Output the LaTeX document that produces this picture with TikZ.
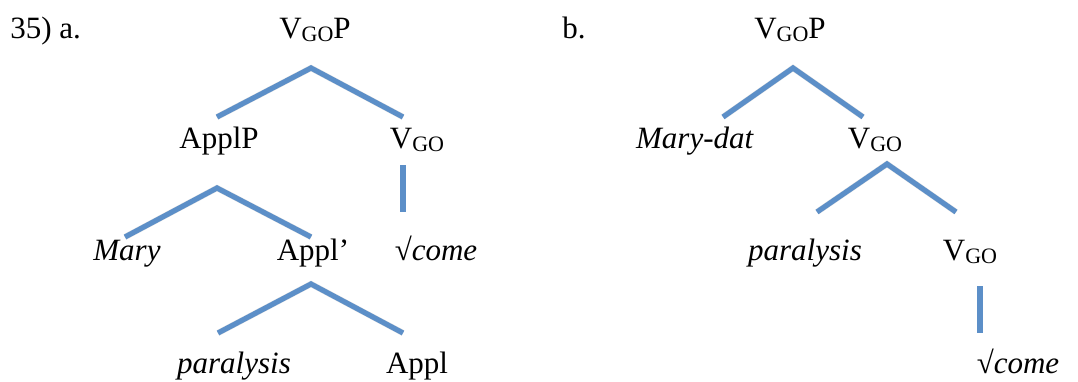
\documentclass[tikz,border=0pt]{standalone}
\usepackage{fontspec}
\setmainfont{LiberationSerif}[
  Extension=.ttf,
  UprightFont=*-Regular,
  ItalicFont=*-Italic,
  BoldFont=*-Bold,
]
\usetikzlibrary{positioning,calc}

\definecolor{branch}{RGB}{92,143,200}
\newcommand{\GOsub}{\raisebox{-0.12em}{\fontsize{11pt}{11pt}\selectfont GO}}
\newcommand{\sqrtroot}[1]{\textup{√}\textit{#1}}

\begin{document}
\begin{tikzpicture}[x=0.5pt,y=-0.5pt]
  \useasboundingbox (0,0) rectangle (1078,381);
  \tikzset{
    branch/.style={draw=branch,line width=2.6pt,line join=miter},
    shade/.style={draw=black,opacity=0.12,line width=3pt,shift={(1.5,2.5)}},
  }
  \begin{scope}[
    every node/.style={
      anchor=base,
      inner sep=0pt,
      font=\fontsize{15.5pt}{18pt}\selectfont,
    },
    ]
    % tree a
    \node[anchor=base west] (label-a) at (10,38)  {35) a.};
    \node (vgop-a)   at (315,38)  {V\GOsub P};
    \node (applp)    at (219,148) {ApplP};
    \node (vgo-a)    at (417,148) {V\GOsub};
    \node (mary)     at (127,260) {\textit{Mary}};
    \node (applbar)  at (313,260) {Appl’};
    \node (root-a)   at (436,260) {\sqrtroot{come}};
    \node (paral-a)  at (234,373) {\textit{paralysis}};
    \node (appl)     at (417,373) {Appl};
    % tree b
    \node[anchor=base west] (label-b) at (562,38) {b.};
    \node (vgop-b)   at (790,38)  {V\GOsub P};
    \node (marydat)  at (695,148) {\textit{Mary-dat}};
    \node (vgo-b)    at (875,148) {V\GOsub};
    \node (paral-b)  at (805,260) {\textit{paralysis}};
    \node (vgo-c)    at (970,260) {V\GOsub};
    \node (root-b)   at (1018,373) {\sqrtroot{come}};
  \end{scope}

  % branch points under each mother node, ends above each daughter
  \coordinate (vgop-a-dn)   at (311,68);
  \coordinate (applp-up)    at (217,117);
  \coordinate (vgo-a-up)    at (403,117);
  \coordinate (vgo-a-dn)    at (403,165);
  \coordinate (root-a-up)   at (403,212);
  \coordinate (applp-dn)    at (217,188);
  \coordinate (mary-up)     at (125,237);
  \coordinate (applbar-up)  at (311,237);
  \coordinate (applbar-dn)  at (311,284);
  \coordinate (paral-a-up)  at (218,333);
  \coordinate (appl-up)     at (403,333);
  \coordinate (vgop-b-dn)   at (793,68);
  \coordinate (marydat-up)  at (723,117);
  \coordinate (vgo-b-up)    at (863,117);
  \coordinate (vgo-b-dn)    at (887,164);
  \coordinate (paral-b-up)  at (817,212);
  \coordinate (vgo-c-up)    at (956,212);
  \coordinate (vgo-c-dn)    at (980,286);
  \coordinate (root-b-up)   at (980,333);

  \foreach \sty in {shade,branch}{
    \path[\sty] (applp-up) -- (vgop-a-dn) -- (vgo-a-up);
    \path[\sty] (vgo-a-dn) -- (root-a-up);
    \path[\sty] (mary-up) -- (applp-dn) -- (applbar-up);
    \path[\sty] (paral-a-up) -- (applbar-dn) -- (appl-up);
    \path[\sty] (marydat-up) -- (vgop-b-dn) -- (vgo-b-up);
    \path[\sty] (paral-b-up) -- (vgo-b-dn) -- (vgo-c-up);
    \path[\sty] (vgo-c-dn) -- (root-b-up);
  }
\end{tikzpicture}
\end{document}
